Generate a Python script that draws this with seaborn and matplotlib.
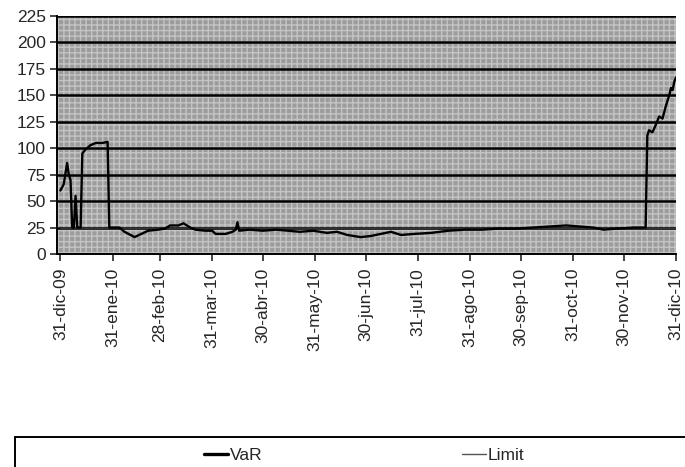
import numpy as np
import pandas as pd
import matplotlib
matplotlib.use("Agg")
import matplotlib.pyplot as plt
import matplotlib.dates as mdates
from matplotlib.patches import Rectangle
import seaborn as sns

# ---- data ----
start_date = "2009-12-31"
var_day_offsets = [0, 2, 4, 5, 6, 7, 8, 9, 10, 12, 13, 15, 18, 21, 25, 28, 29,
                   35, 38, 44, 48, 52, 58, 62, 65, 70, 73, 77, 80, 86, 90, 92,
                   98, 102, 104, 105, 106, 112, 120, 128, 135, 142, 150, 158,
                   164, 170, 178, 184, 190, 196, 202, 210, 220, 230, 240, 250,
                   260, 270, 280, 290, 300, 308, 316, 322, 330, 340, 347, 348,
                   349, 351, 353, 355, 357, 359, 361, 362, 363, 364, 365]
var_values = [60, 66, 86, 75, 70, 25, 25, 55, 25, 25, 95, 99, 103, 105, 105, 106, 25,
              25, 21, 16, 19, 22, 23, 24, 27, 27, 29, 25, 23, 22, 22, 19,
              19, 21, 23, 30, 22, 23, 22, 23, 22, 21, 22, 20,
              21, 18, 16, 17, 19, 21, 18, 19, 20, 22, 23, 23,
              24, 24, 25, 26, 27, 26, 25, 23, 24, 25, 25, 112,
              117, 115, 122, 130, 128, 140, 150, 157, 155, 163, 167]
limit_day_offsets = [0, 365]
limit_values = [25, 25]

tick_dates = ["2009-12-31", "2010-01-31", "2010-02-28", "2010-03-31", "2010-04-30",
              "2010-05-31", "2010-06-30", "2010-07-31", "2010-08-31", "2010-09-30",
              "2010-10-31", "2010-11-30", "2010-12-31"]
tick_labels = ["31-dic-09", "31-ene-10", "28-feb-10", "31-mar-10", "30-abr-10",
               "31-may-10", "30-jun-10", "31-jul-10", "31-ago-10", "30-sep-10",
               "31-oct-10", "30-nov-10", "31-dic-10"]
y_ticks = [0, 25, 50, 75, 100, 125, 150, 175, 200, 225]

# ---- build frames ----
t0 = pd.Timestamp(start_date)
df_var = pd.DataFrame({"date": t0 + pd.to_timedelta(var_day_offsets, unit="D"),
                       "value": var_values, "series": "VaR"})
df_lim = pd.DataFrame({"date": t0 + pd.to_timedelta(limit_day_offsets, unit="D"),
                       "value": limit_values, "series": "Limit"})

sns.set_style("white")
plt.rcParams["font.family"] = ["Liberation Sans", "DejaVu Sans"]

fig = plt.figure(figsize=(6.85, 4.67), dpi=100)
ax = fig.add_axes([57 / 685, 1 - 254 / 467, (676 - 57) / 685, (254 - 16) / 467])

ax.set_facecolor("#9c9c9c")
ax.add_patch(Rectangle((0, 0), 1, 1, transform=ax.transAxes, facecolor="none",
                       edgecolor="#c4c4c4", hatch="+++", linewidth=0, zorder=0))

sns.lineplot(data=df_lim, x="date", y="value", ax=ax, color="#333333",
             linewidth=1.0, zorder=3, legend=False)
sns.lineplot(data=df_var, x="date", y="value", ax=ax, color="black",
             linewidth=1.7, zorder=4, legend=False)

for yv in y_ticks[1:]:
    ax.axhline(yv, color="black", linewidth=1.8, zorder=2)

ax.set_ylim(0, 225)
ax.set_yticks(y_ticks)
ax.set_xlim(pd.Timestamp("2009-12-29"), pd.Timestamp("2010-12-31"))
ax.set_xticks([pd.Timestamp(d) for d in tick_dates])
ax.set_xticklabels(tick_labels, rotation=90, fontsize=12.5)
ax.tick_params(axis="y", labelsize=12.5, direction="out", length=5, width=1.2, pad=3)
ax.tick_params(axis="x", direction="out", length=5, width=1.2, pad=5)
ax.tick_params(left=True, bottom=True)
ax.set_xlabel("")
ax.set_ylabel("")
for s in ["top", "right"]:
    ax.spines[s].set_visible(False)
for s in ["left", "bottom"]:
    ax.spines[s].set_color("black")
    ax.spines[s].set_linewidth(1.4)

# legend
h1, = ax.plot([], [], color="black", linewidth=2.4)
h2, = ax.plot([], [], color="#555555", linewidth=1.0)
fig.legend([h1, h2], ["VaR", "Limit"], loc="center",
           bbox_to_anchor=(364 / 685, 1 - 455 / 467), ncol=2, frameon=False,
           fontsize=12.5, handlelength=1.4, handletextpad=0.1, columnspacing=11.5)
fig.patches.append(Rectangle((15 / 685, -0.05), 1.0, 1 - 437 / 467 + 0.05,
                             transform=fig.transFigure, facecolor="none",
                             edgecolor="black", linewidth=1.4))

fig.savefig("out.png", dpi=100)
